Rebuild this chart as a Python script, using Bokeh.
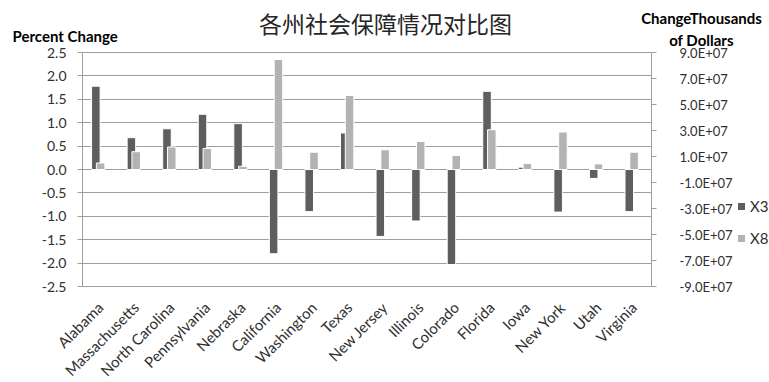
from bokeh.plotting import figure
from bokeh.models import (Range1d, LinearAxis, FixedTicker, Label, Legend, LegendItem,
                          NumeralTickFormatter, ColumnDataSource)
from bokeh.embed import file_html
from bokeh.resources import INLINE
from math import pi

states = ["Alabama", "Massachusetts", "North Carolina", "Pennsylvania", "Nebraska",
          "California", "Washington", "Texas", "New Jersey", "Illinois", "Colorado",
          "Florida", "Iowa", "New York", "Utah", "Virginia"]
x3_percent = [1.78, 0.68, 0.87, 1.18, 0.98, -1.80, -0.90, 0.78, -1.43, -1.10,
              -2.03, 1.67, 0.05, -0.91, -0.19, -0.90]
x8_thousands = [5.0e6, 1.37e7, 1.73e7, 1.62e7, 2.5e6, 8.46e7, 1.33e7, 5.69e7,
                1.51e7, 2.16e7, 1.08e7, 3.06e7, 4.7e6, 2.88e7, 4.3e6, 1.33e7]
left_ticks = [-2.5, -2.0, -1.5, -1.0, -0.5, 0.0, 0.5, 1.0, 1.5, 2.0, 2.5]
right_ticks = [-9e7, -7e7, -5e7, -3e7, -1e7, 1e7, 3e7, 5e7, 7e7, 9e7]
right_tick_labels = ["-9.0E+07", "-7.0E+07", "-5.0E+07", "-3.0E+07", "-1.0E+07",
                     "1.0E+07", "3.0E+07", "5.0E+07", "7.0E+07", "9.0E+07"]
series_names = ["X3", "X8"]
title_text = "各州社会保障情况对比图"
left_title = "Percent Change"
right_title = ["ChangeThousands", "of Dollars"]

DARK = "#5e5e5e"
LIGHT = "#b3b3b3"
GRID = "#9e9e9e"
TXT = "#303030"
FONT = "Lato"

W, H = 769, 382
# plot area (pixels) inside the canvas
PL, PR, PT, PB = 82, 651, 52, 286
n = len(states)
ux = (PR - PL) / n                       # px per category
ylo, yhi = left_ticks[0], left_ticks[-1]
uy = (PB - PT) / (yhi - ylo)             # px per percent unit
rlo, rhi = right_ticks[0], right_ticks[-1]
ratio = (rhi - rlo) / (yhi - ylo)

x_start = -PL / ux
x_end = n + (W - PR) / ux
y_start = ylo - (H - PB) / uy
y_end = yhi + PT / uy

pos = [i + 0.5 for i in range(n)]
src = ColumnDataSource(dict(pos=pos, x3=x3_percent, x8=x8_thousands,
                            p3=[v - 0.125 for v in pos], p8=[v + 0.01 for v in pos]))

p = figure(width=W, height=H, output_backend="svg", toolbar_location=None,
           x_range=Range1d(x_start, x_end), y_range=Range1d(y_start, y_end),
           min_border=0)
p.outline_line_color = None
p.background_fill_color = "white"
p.border_fill_color = "white"
p.extra_y_ranges = {"right": Range1d(y_start * ratio, y_end * ratio)}

r3 = p.vbar(x="p3", top="x3", width=0.24, source=src, fill_color=DARK,
            line_color="white", line_width=1)
r8 = p.vbar(x="p8", top="x8", width=0.24, source=src, fill_color=LIGHT,
            line_color="white", line_width=1, y_range_name="right")

# left axis
ya = p.yaxis[0]
ya.fixed_location = 0
ya.bounds = (ylo, yhi)
ya.ticker = FixedTicker(ticks=left_ticks)
ya.formatter = NumeralTickFormatter(format="0.0")
ya.axis_line_color = GRID
ya.major_tick_line_color = GRID
ya.major_tick_out = 5
ya.major_tick_in = 0
ya.minor_tick_line_color = None
ya.major_label_text_font = FONT
ya.major_label_text_font_size = "14px"
ya.major_label_text_color = TXT
ya.major_label_standoff = 11

p.ygrid.ticker = FixedTicker(ticks=left_ticks)
p.ygrid.grid_line_color = GRID
p.ygrid.cross_bounds = (0, n)
p.xgrid.grid_line_color = None

# right axis
ra = LinearAxis(y_range_name="right", ticker=FixedTicker(ticks=right_ticks),
                major_label_overrides=dict(zip(right_ticks, right_tick_labels)),
                fixed_location=n, bounds=(rlo, rhi))
ra.axis_line_color = GRID
ra.major_tick_line_color = GRID
ra.major_tick_out = 5
ra.major_tick_in = 0
ra.minor_tick_line_color = None
ra.major_label_text_font = FONT
ra.major_label_text_font_size = "13px"
ra.major_label_text_color = TXT
ra.major_label_standoff = 23
p.add_layout(ra, "right")

# bottom (category) axis
xa = p.xaxis[0]
xa.fixed_location = ylo
xa.bounds = (0, n)
xa.ticker = FixedTicker(ticks=pos)
xa.major_label_overrides = dict(zip(pos, states))
xa.axis_line_color = GRID
xa.major_tick_line_color = None
xa.minor_tick_line_color = None
xa.major_label_orientation = pi / 4
xa.major_label_text_font = FONT
xa.major_label_text_font_size = "15px"
xa.major_label_text_color = TXT
xa.major_label_standoff = 12

# titles (screen units: origin at bottom-left of canvas)
p.add_layout(Label(x=385, y=H - 22, x_units="screen", y_units="screen", text=title_text,
                   text_font="Noto Sans CJK SC", text_font_size="23px",
                   text_color="#262626", text_align="center", text_baseline="middle"))
p.add_layout(Label(x=12, y=H - 35, x_units="screen", y_units="screen", text=left_title,
                   text_font=FONT, text_font_size="15px", text_font_style="bold",
                   text_color="black", text_align="left", text_baseline="middle"))
p.add_layout(Label(x=701, y=H - 17, x_units="screen", y_units="screen", text=right_title[0],
                   text_font=FONT, text_font_size="15px", text_font_style="bold",
                   text_color="black", text_align="center", text_baseline="middle"))
p.add_layout(Label(x=701, y=H - 39, x_units="screen", y_units="screen", text=right_title[1],
                   text_font=FONT, text_font_size="15px", text_font_style="bold",
                   text_color="black", text_align="center", text_baseline="middle"))

legend = Legend(items=[LegendItem(label=series_names[0], renderers=[r3]),
                       LegendItem(label=series_names[1], renderers=[r8])],
                location=(736, H - 248), padding=0, margin=0, spacing=12,
                glyph_width=10, glyph_height=10, label_height=20, label_standoff=4,
                label_text_font=FONT, label_text_font_size="15px",
                label_text_color=TXT, border_line_color=None,
                background_fill_alpha=0)
p.add_layout(legend)

open("out.html", "w").write(file_html(p, INLINE))
